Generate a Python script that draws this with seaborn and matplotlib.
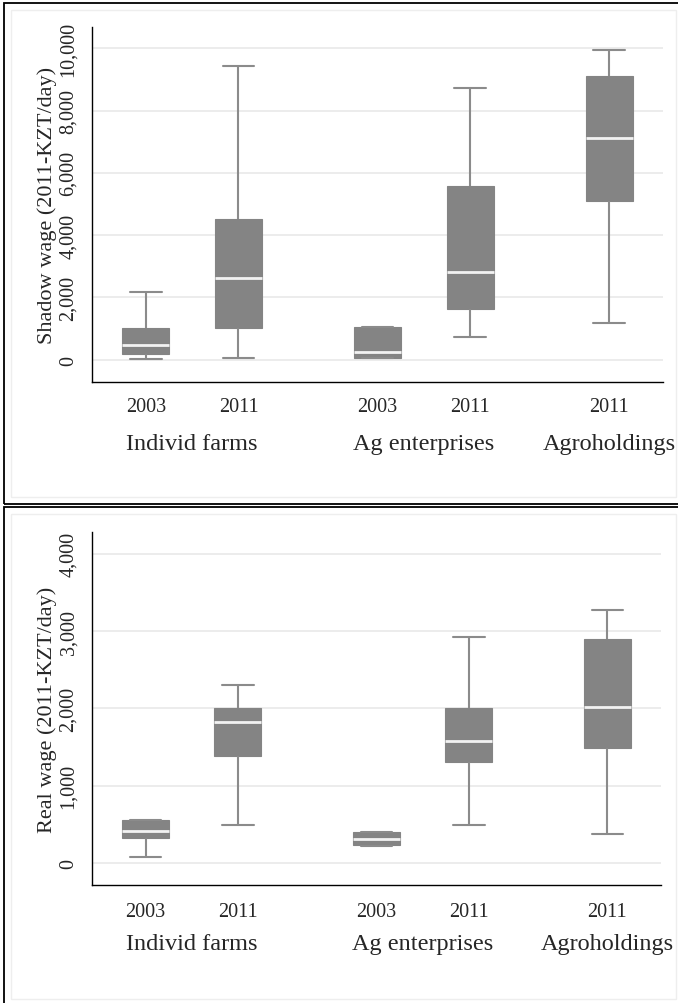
import pandas as pd
import matplotlib
matplotlib.use('Agg')
import matplotlib.pyplot as plt
import seaborn as sns
from matplotlib.patches import Rectangle
from matplotlib.ticker import MultipleLocator, StrMethodFormatter

years = ['2003', '2011', '2003', '2011', '2011']
positions = [0, 1, 2.5, 3.5, 5]
groups = ['Individ farms', 'Ag enterprises', 'Agroholdings']
group_centers = [0.5, 3.0, 5.0]

# five-number summaries per box: lower whisker, q1, median, q3, upper whisker
shadow_low = [25, 45, 45, 720, 1170]
shadow_q1 = [175, 1010, 55, 1630, 5110]
shadow_med = [480, 2625, 255, 2825, 7130]
shadow_q3 = [1020, 4520, 1040, 5570, 9110]
shadow_high = [2190, 9420, 1055, 8720, 9955]

real_low = [78, 500, 228, 500, 380]
real_q1 = [323, 1392, 230, 1306, 1487]
real_med = [422, 1823, 314, 1578, 2017]
real_q3 = [560, 2004, 401, 2008, 2901]
real_high = [562, 2306, 405, 2918, 3267]

BOX = '#848484'
LINE = '#8b8b8b'


def to_long(*stats):
    rows = []
    for i, p in enumerate(positions):
        for s in stats:
            rows.append({'pos': p, 'wage': s[i]})
    return pd.DataFrame(rows)


def panel(ax, df, ylim, major, minor, ylabel, xpad, gpad):
    sns.boxplot(data=df, x='pos', y='wage', native_scale=True, width=0.51,
                whis=(0, 100), color=BOX, saturation=1, linecolor=LINE,
                linewidth=1.5, showfliers=False, capwidths=0.34,
                boxprops=dict(edgecolor=BOX, linewidth=0.8),
                medianprops=dict(color='#f2f2f2', linewidth=2),
                ax=ax)
    ax.set_xlim(-0.58, 5.58)
    ax.set_ylim(*ylim)
    ax.yaxis.set_major_locator(MultipleLocator(major))
    ax.yaxis.set_minor_locator(MultipleLocator(minor))
    ax.yaxis.set_major_formatter(StrMethodFormatter('{x:,.0f}'))
    ax.grid(axis='y', color='#ebebeb', linewidth=1.3)
    ax.set_axisbelow(True)
    ax.set_xticks(positions)
    ax.set_xticklabels(years, fontsize=14.5)
    ax.tick_params(axis='x', length=0, pad=xpad)
    ax.tick_params(axis='y', which='major', length=6.5, width=0.8, pad=3.5,
                   labelsize=14.5, labelrotation=90)
    ax.tick_params(axis='y', which='minor', length=3.5, width=0.8)
    for t in ax.get_yticklabels():
        t.set_va('center')
    for s in ['top', 'right']:
        ax.spines[s].set_visible(False)
    for s in ['left', 'bottom']:
        ax.spines[s].set_color('black')
        ax.spines[s].set_linewidth(1)
    ax.set_xlabel('')
    ax.set_ylabel(ylabel, fontsize=16)
    ax.yaxis.set_label_coords(-0.061, 0.5)
    for g, c in zip(groups, group_centers):
        ax.annotate(g, xy=(c, 0), xycoords=('data', 'axes fraction'),
                    xytext=(0, -gpad), textcoords='offset points',
                    ha='center', va='baseline', fontsize=17.5)


sns.set_theme(style='white')
plt.rcParams['font.family'] = ['Liberation Serif', 'DejaVu Serif']

fig = plt.figure(figsize=(6.78, 10.04), dpi=100)
W, H = 678, 1004

# panel frames
fig.add_artist(Rectangle((4 / W, 1 - 505 / H), 1.0, 501 / H, transform=fig.transFigure,
                         fill=False, edgecolor='black', linewidth=1.3))
fig.add_artist(Rectangle((11 / W, 1 - 498 / H), 665 / W, 487 / H, transform=fig.transFigure,
                         fill=False, edgecolor='#eeeeee', linewidth=1))
fig.add_artist(Rectangle((4 / W, -0.05), 1.0, 1 - 508 / H + 0.05, transform=fig.transFigure,
                         fill=False, edgecolor='black', linewidth=1.3))
fig.add_artist(Rectangle((11 / W, 1 - 1000 / H), 665 / W, 485 / H, transform=fig.transFigure,
                         fill=False, edgecolor='#eeeeee', linewidth=1))

ax1 = fig.add_axes([92 / W, 1 - 383 / H, (663 - 92) / W, (383 - 28) / H])
ax2 = fig.add_axes([92 / W, 1 - 886 / H, (661 - 92) / W, (886 - 533) / H])

panel(ax1, to_long(shadow_low, shadow_q1, shadow_med, shadow_q3, shadow_high),
      (-716, 10684), 2000, 500, 'Shadow wage (2011-KZT/day)', 11, 48)
panel(ax2, to_long(real_low, real_q1, real_med, real_q3, real_high),
      (-281, 4280), 1000, 200, 'Real wage (2011-KZT/day)', 12, 46)

fig.savefig('out.png', dpi=100)
